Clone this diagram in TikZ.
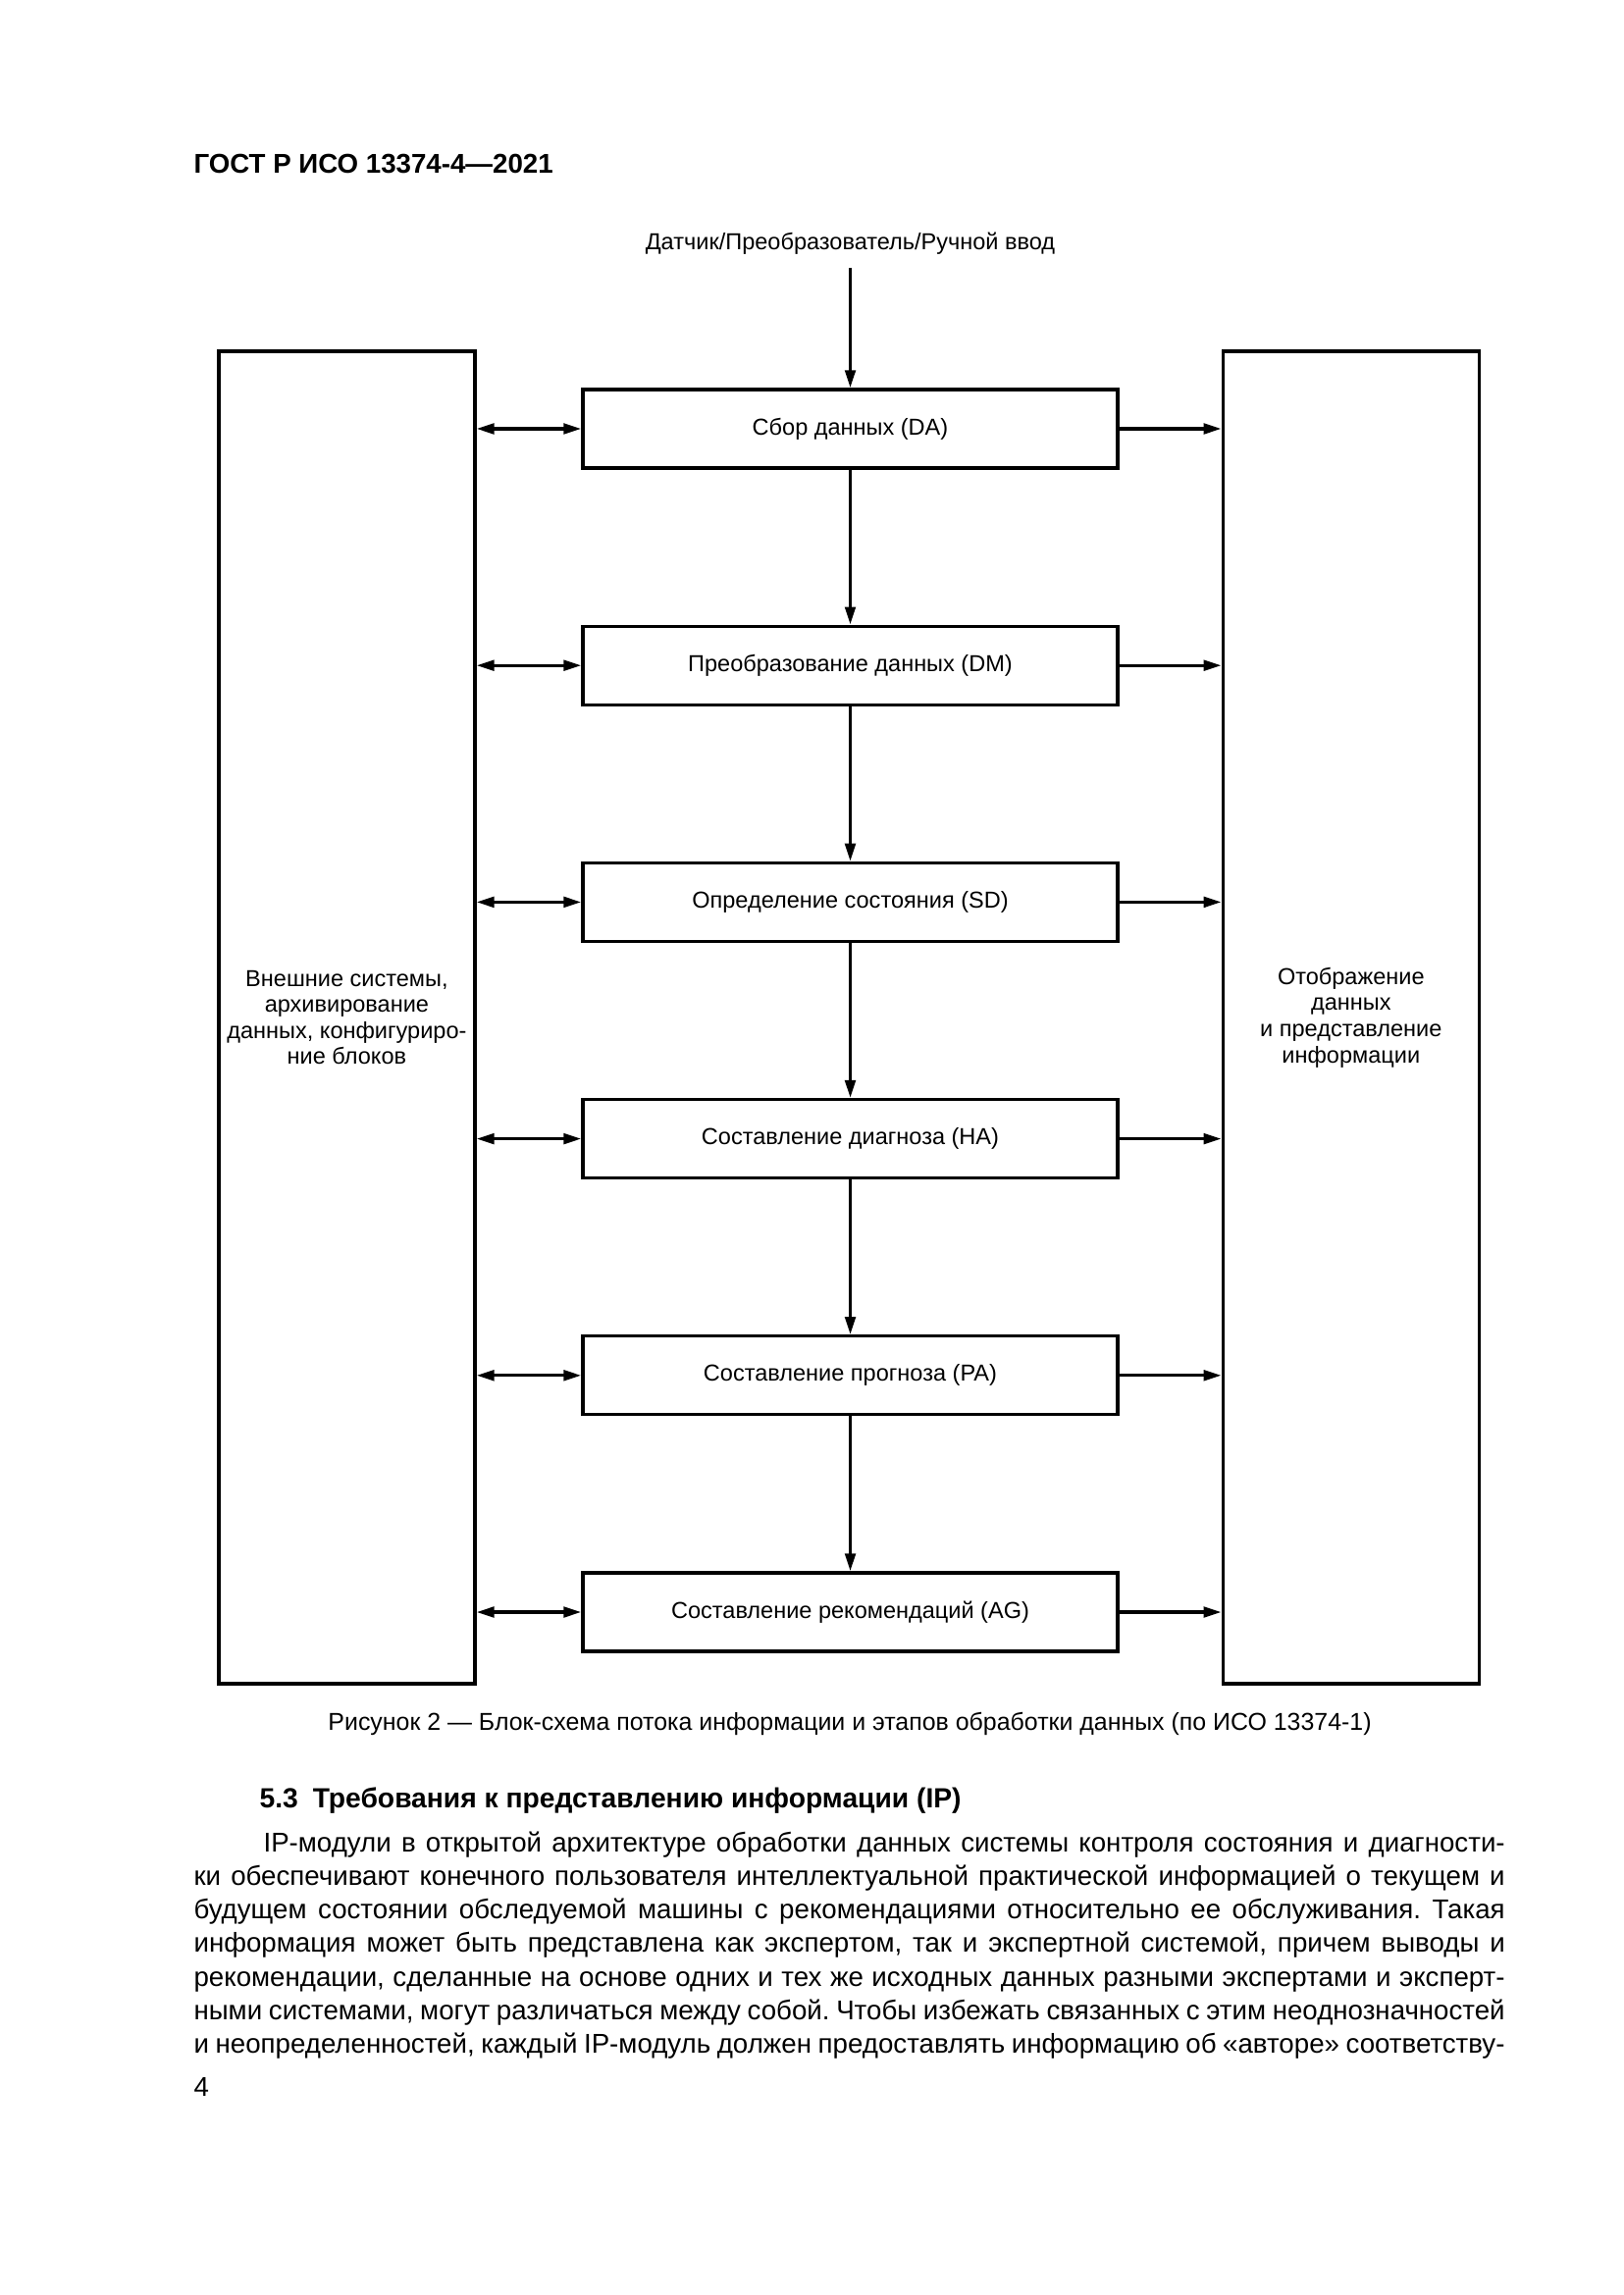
\documentclass[tikz,border=0pt]{standalone}
\usepackage{fontspec}
\setmainfont{Liberation Sans}
\usetikzlibrary{arrows.meta}
\frenchspacing
\begin{document}
\begin{tikzpicture}[x=0.12696mm,y=-0.12696mm,
  stage/.style={draw, line width=1.2pt, minimum width=545*0.12696mm, minimum height=80*0.12696mm, inner sep=0pt, font=\fontsize{8.5}{10}\selectfont},
  side/.style={draw, line width=1.2pt, minimum width=261*0.12696mm, minimum height=1358*0.12696mm, inner sep=0pt, align=center, font=\fontsize{8.5}{9.6}\selectfont},
  tipA/.tip={Triangle[length=6.5pt,width=3.8pt]},
  conn/.style={line width=1.2pt, -tipA},
  biconn/.style={line width=1.2pt, tipA-tipA},
  plain/.style={inner sep=0pt, anchor=base west, font=\fontsize{10}{12}\selectfont},
]
\useasboundingbox (0,0) rectangle (1654,2339);
\fill[white] (0,0) rectangle (1654,2339);

% header
\node[plain, font=\fontsize{10}{12}\selectfont\bfseries] (hdr) at (197,177) {ГОСТ Р ИСО 13374-4—2021};

% source
\node[inner sep=0pt, anchor=base, font=\fontsize{8.5}{10}\selectfont] (src) at (866.5,255) {Датчик/Преобразователь/Ручной ввод};
\coordinate (srcend) at (866.5,273);

% side boxes
\node[side] (L) at (353.4,1037) {Внешние системы,\\архивирование\\данных, конфигуриро-\\ние блоков};
\node[side] (R) at (1376.8,1037) {Отображение\\данных\\и представление\\информации};

% stages
\node[stage] (DA) at (866.5,437) {Сбор данных (DA)};
\node[stage] (DM) at (866.5,678.2) {Преобразование данных (DM)};
\node[stage] (SD) at (866.5,919.4) {Определение состояния (SD)};
\node[stage] (HA) at (866.5,1160.6) {Составление диагноза (HA)};
\node[stage] (PA) at (866.5,1401.8) {Составление прогноза (PA)};
\node[stage] (AG) at (866.5,1643) {Составление рекомендаций (AG)};

% vertical flow
\draw[conn] (srcend) -- (DA.north);
\draw[conn] (DA) -- (DM);
\draw[conn] (DM) -- (SD);
\draw[conn] (SD) -- (HA);
\draw[conn] (HA) -- (PA);
\draw[conn] (PA) -- (AG);

% side connectors
\foreach \s in {DA,DM,SD,HA,PA,AG}{
  \draw[biconn] (\s.west -| L.east) -- (\s.west);
  \draw[conn] (\s.east) -- (\s.east -| R.west);
}

% caption
\node[inner sep=0pt, anchor=base, font=\fontsize{9}{11}\selectfont] (cap) at (866,1763) {Рисунок 2 — Блок-схема потока информации и этапов обработки данных (по ИСО 13374-1)};

% heading
\node[plain, font=\fontsize{10.2}{12}\selectfont\bfseries] (h53) at (264,1842) {5.3\hspace{5.4pt}Требования к представлению информации (IP)};

% paragraph
\node[plain] (p1) at (268,1887) {\makebox[160.604mm][s]{IP-модули в открытой архитектуре обработки данных системы контроля состояния и диагности-}};
\node[plain] (p2) at (197,1921.3) {\makebox[169.619mm][s]{ки обеспечивают конечного пользователя интеллектуальной практической информацией о текущем и}};
\node[plain] (p3) at (197,1955.6) {\makebox[169.619mm][s]{будущем состоянии обследуемой машины с рекомендациями относительно ее обслуживания. Такая}};
\node[plain] (p4) at (197,1989.9) {\makebox[169.619mm][s]{информация может быть представлена как экспертом, так и экспертной системой, причем выводы и}};
\node[plain] (p5) at (197,2024.2) {\makebox[169.619mm][s]{рекомендации, сделанные на основе одних и тех же исходных данных разными экспертами и эксперт-}};
\node[plain] (p6) at (197,2058.5) {\makebox[169.619mm][s]{ными системами, могут различаться между собой. Чтобы избежать связанных с этим неоднозначностей}};
\node[plain] (p7) at (197,2092.8) {\makebox[169.619mm][s]{и неопределенностей, каждый IP-модуль должен предоставлять информацию об «авторе» соответству-}};

% page number
\node[plain] (pg) at (197,2136) {4};
\end{tikzpicture}
\end{document}
